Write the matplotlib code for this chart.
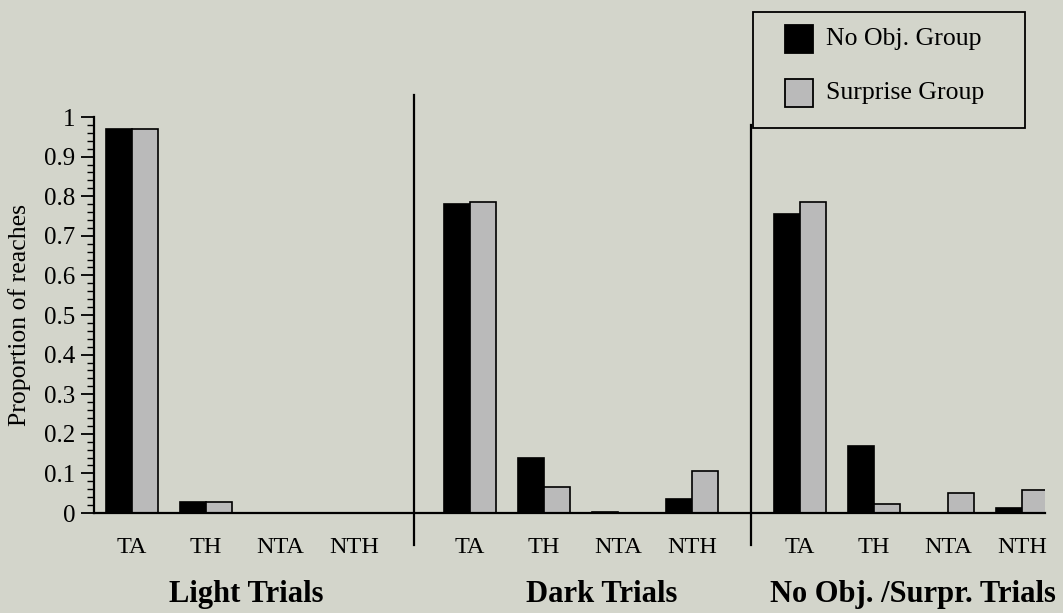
import matplotlib.pyplot as plt
import matplotlib.patches as mpatches
import numpy as np

categories = ['TA', 'TH', 'NTA', 'NTH']
groups = ['Light Trials', 'Dark Trials', 'No Obj. /Surpr. Trials']
series = ['No Obj. Group', 'Surprise Group']
no_obj = [0.97, 0.027, 0.0, 0.0,
          0.78, 0.14, 0.003, 0.035,
          0.755, 0.17, 0.0, 0.013]
surprise = [0.97, 0.027, 0.0, 0.0,
            0.785, 0.065, 0.0, 0.105,
            0.785, 0.022, 0.05, 0.058]

bg = '#d3d5cb'
grey = '#bababa'
plt.rcParams['font.family'] = ['Liberation Serif', 'DejaVu Serif']

W, H = 1063, 613
group_start = [0.0, 4.57, 9.03]
x = np.concatenate([s + np.arange(4) for s in group_start])
w = 0.35

fig = plt.figure(figsize=(W / 100, H / 100), dpi=100, facecolor=bg)
ax = fig.add_axes([94 / W, 1 - 513 / H, (1045 - 94) / W, (513 - 117) / H])
ax.set_facecolor(bg)

ax.bar(x - w / 2, no_obj, w, color='black', edgecolor='black', linewidth=1.2)
ax.bar(x + w / 2, surprise, w, color=grey, edgecolor='black', linewidth=1.2)

ax.set_xlim(-0.51, 12.34)
ax.set_ylim(0, 1)
ax.set_yticks(np.arange(0, 1.01, 0.1))
ax.set_yticklabels(['0'] + ['%.1f' % v for v in np.arange(0.1, 0.95, 0.1)] + ['1'])
ax.set_yticks(np.arange(0, 1.001, 0.02), minor=True)
ax.tick_params(axis='y', which='major', length=9.5, width=1.3, labelsize=18, pad=4)
ax.tick_params(axis='y', which='minor', length=5, width=1)
ax.set_xticks(x)
ax.set_xticklabels(categories * 3)
ax.tick_params(axis='x', length=0, labelsize=17.5, pad=17)
for s in ['top', 'right']:
    ax.spines[s].set_visible(False)
ax.spines['left'].set_linewidth(1.6)
ax.spines['bottom'].set_linewidth(1.6)
ax.set_ylabel('Proportion of reaches', fontsize=18.5, labelpad=9)

# dividers between groups
div1 = (group_start[0] + 3 + group_start[1]) / 2 + 0.03
div2 = (group_start[1] + 3 + group_start[2]) / 2 + 0.07
ax.plot([div1, div1], [-0.08, 1.055], color='black', lw=1.6, clip_on=False)
ax.plot([div2, div2], [-0.08, 0.98], color='black', lw=1.6, clip_on=False)

title_x = [1.55, 6.35, 10.55]
for tx, g in zip(title_x, groups):
    ax.text(tx, -0.207, g, ha='center', va='center', fontsize=22, fontweight='bold')

# legend box drawn by hand to match the original layout
fig.add_artist(mpatches.Rectangle((753 / W, 1 - 128 / H), (1025 - 753) / W, 116 / H,
                                  transform=fig.transFigure, facecolor=bg,
                                  edgecolor='black', lw=1.3))
for i, (lab, col) in enumerate(zip(series, ['black', grey])):
    yc = 39 + 54 * i
    fig.add_artist(mpatches.Rectangle((785 / W, 1 - (yc + 14) / H), 28 / W, 28 / H,
                                      transform=fig.transFigure, facecolor=col,
                                      edgecolor='black', lw=1.3))
    fig.text(826 / W, 1 - yc / H, lab, fontsize=18.5, va='center', ha='left')

fig.savefig('out.png', dpi=100, facecolor=bg)
